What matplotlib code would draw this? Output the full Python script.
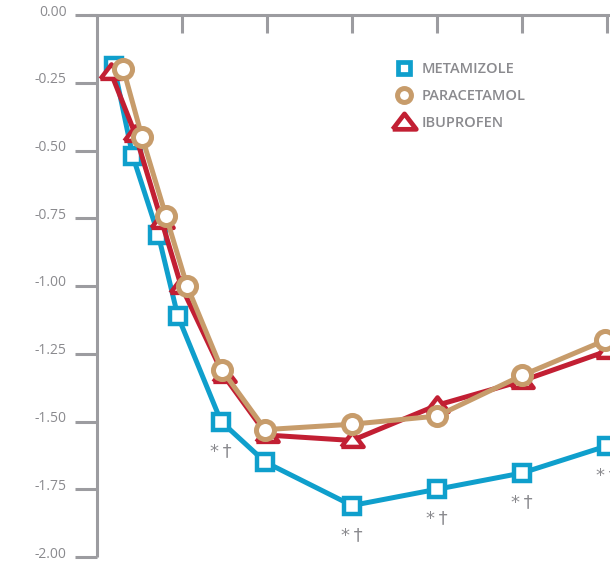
import matplotlib
matplotlib.use("Agg")
import matplotlib.pyplot as plt
from matplotlib.lines import Line2D
from matplotlib.transforms import ScaledTranslation

# Data (hours, change in value)
met_t = [0.20, 0.42, 0.72, 0.95, 1.46, 1.98, 3.0, 4.0, 5.0, 6.0]
met_v = [-0.19, -0.52, -0.81, -1.11, -1.50, -1.65, -1.81, -1.75, -1.69, -1.59]
par_t = [0.31, 0.53, 0.81, 1.06, 1.47, 1.98, 3.0, 4.0, 5.0, 5.98]
par_v = [-0.20, -0.45, -0.74, -1.00, -1.31, -1.53, -1.51, -1.48, -1.33, -1.20]
ibu_t = [0.16, 0.45, 0.76, 0.99, 1.49, 2.0, 3.0, 4.0, 5.0, 6.0]
ibu_v = [-0.21, -0.44, -0.76, -1.00, -1.33, -1.55, -1.57, -1.44, -1.35, -1.24]
sig_t = [1.46, 3.0, 4.0, 5.0, 6.0]
sig_v = [-1.50, -1.81, -1.75, -1.69, -1.59]
sig_label = "*\u2009†"
series_names = ["METAMIZOLE", "PARACETAMOL", "IBUPROFEN"]
yticks = [0.0, -0.25, -0.5, -0.75, -1.0, -1.25, -1.5, -1.75, -2.0]
ytick_labels = ["0.00", "-0.25", "-0.50", "-0.75", "-1.00", "-1.25", "-1.50", "-1.75", "-2.00"]
xticks = [1, 2, 3, 4, 5, 6]

BLUE = "#0f9fcc"
TAN = "#c79c6b"
RED = "#c21f33"
GRAY = "#9c9ca0"
TXT = "#8a8a8e"

TRI = [(-1.3, -0.75), (1.3, -0.75), (0.0, 0.95), (-1.3, -0.75)]

W, H = 610, 561
fig = plt.figure(figsize=(W / 100, H / 100), dpi=100)
left_px, right_px, top_px, bot_px = 89, 610, 15, 557
ax = fig.add_axes([left_px / W, (H - bot_px) / H, (right_px - left_px) / W, (bot_px - top_px) / H])

x0 = -(97 - 89) / 85.0
x1 = x0 + (right_px - left_px) / 85.0
ax.set_xlim(x0, x1)
ax.set_ylim(-2.0, 0.0)

lw = 3.6
ax.plot(met_t, met_v, color=BLUE, lw=lw, marker="s", ms=11.5, mfc="white",
        mec=BLUE, mew=3.2, zorder=3, clip_on=False)
ax.plot(ibu_t, ibu_v, color=RED, lw=lw, marker=TRI, ms=16, mfc="white",
        mec=RED, mew=3.2, zorder=4, clip_on=False)
ax.plot(par_t, par_v, color=TAN, lw=lw, marker="o", ms=13, mfc="white",
        mec=TAN, mew=3.6, zorder=5, clip_on=False)

for t, v in zip(sig_t, sig_v):
    ax.annotate(sig_label, (t, v), xytext=(0, -21), textcoords="offset points",
                ha="center", va="center", fontsize=13, color=TXT,
                family="DejaVu Sans", annotation_clip=False)

# spines
for s in ["right", "bottom"]:
    ax.spines[s].set_visible(False)
ax.spines["left"].set_position(("data", 0))
for s in ["left", "top"]:
    ax.spines[s].set_color(GRAY)
    ax.spines[s].set_linewidth(2.2)
    ax.spines[s].set_capstyle("butt")

ax.xaxis.set_ticks_position("top")
ax.set_xticks(xticks)
ax.set_xticklabels([])
ax.tick_params(axis="x", direction="in", length=13, width=2.2, color=GRAY)
ax.set_yticks(yticks)
ax.set_yticklabels(ytick_labels)
ax.tick_params(axis="y", direction="out", length=16, width=2.2, color=GRAY,
               labelsize=10, labelcolor=TXT, pad=6)
shift = ScaledTranslation(0, 5 / 100, fig.dpi_scale_trans)
for lbl in ax.get_yticklabels():
    lbl.set_family("Open Sans")
    lbl.set_transform(lbl.get_transform() + shift)

handles = [
    Line2D([], [], color=BLUE, ls="none", marker="s", ms=8.5, mfc="white", mec=BLUE, mew=3.4),
    Line2D([], [], color=TAN, ls="none", marker="o", ms=10, mfc="white", mec=TAN, mew=3.6),
    Line2D([], [], color=RED, ls="none", marker=TRI, ms=17, mfc="white", mec=RED, mew=3.4),
]
leg = ax.legend(handles, series_names, loc="upper left", bbox_to_anchor=(0.562, 0.938),
                frameon=False, handletextpad=0.65, labelspacing=0.9, handlelength=1.2,
                prop={"family": "Open Sans", "size": 10.5, "weight": "semibold"})
for t in leg.get_texts():
    t.set_color(TXT)

fig.savefig("out.png", dpi=100)
